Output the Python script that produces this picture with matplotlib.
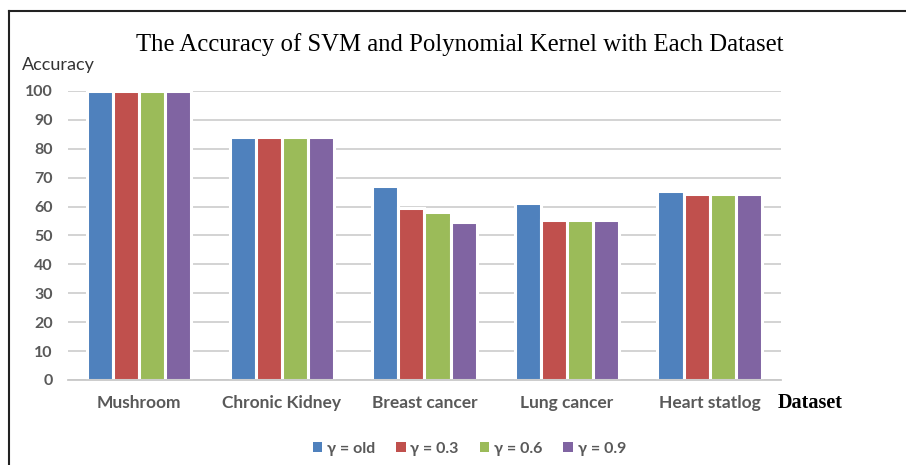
import matplotlib.pyplot as plt
import numpy as np
from matplotlib.lines import Line2D

# data
datasets = ['Mushroom', 'Chronic Kidney', 'Breast cancer', 'Lung cancer', 'Heart statlog']
series = ['\u03b3 = old', '\u03b3 = 0.3', '\u03b3 = 0.6', '\u03b3 = 0.9']
gamma_old = [100, 84.1, 67.2, 61.2, 65.4]
gamma_03 = [100, 84.1, 59.4, 55.3, 64.3]
gamma_06 = [100, 84.1, 58.2, 55.3, 64.3]
gamma_09 = [100, 84.1, 54.7, 55.3, 64.3]
colors = ['#4F81BD', '#C0504D', '#9BBB59', '#8064A2']

sans = ['Lato', 'DejaVu Sans']
serif = ['Liberation Serif', 'DejaVu Serif']
grey = '#595959'

fig = plt.figure(figsize=(9.06, 4.65), dpi=100)
ax = fig.add_axes([0.075, 0.183, 0.787, 0.6215])

x = np.arange(len(datasets))
w = 0.183
for i, vals in enumerate([gamma_old, gamma_03, gamma_06, gamma_09]):
    ax.bar(x + (i - 1.5) * w, vals, width=w, color=colors[i],
           edgecolor='white', linewidth=2.2, label=series[i], zorder=3)

ax.set_xlim(-0.5, 4.5)
ax.set_ylim(0, 100)
ax.set_yticks(range(0, 101, 10))
ax.grid(axis='y', color='#D0D0D0', linewidth=1.3, zorder=0)
for s in ['top', 'right', 'left']:
    ax.spines[s].set_visible(False)
ax.spines['bottom'].set_color('#C8C8C8')
ax.spines['bottom'].set_linewidth(1.3)
ax.spines['bottom'].set_zorder(4)
ax.tick_params(length=0)
ax.tick_params(axis='y', pad=11)
ax.tick_params(axis='x', pad=11)
ax.set_xticks(x)
ax.set_xticklabels(datasets)
for lab in ax.get_xticklabels():
    lab.set_fontsize(12.5)
for lab in ax.get_yticklabels():
    lab.set_fontsize(11.5)
for lab in ax.get_xticklabels() + ax.get_yticklabels():
    lab.set_family(sans)
    lab.set_fontweight('bold')
    lab.set_color(grey)

fig.text(0.508, 0.905, 'The Accuracy of SVM and Polynomial Kernel with Each Dataset',
         ha='center', va='center', family=serif, fontsize=17.8)
fig.text(0.024, 0.86, 'Accuracy', ha='left', va='center', family=sans,
         fontsize=13, color='#333333')
fig.text(0.858, 0.133, 'Dataset', ha='left', va='center', family=serif,
         fontsize=14.5, fontweight='bold')

leg = fig.legend(loc='center', bbox_to_anchor=(0.518, 0.035), ncol=4, frameon=False,
                 handlelength=0.6, handleheight=0.6, handletextpad=0.3,
                 columnspacing=1.3, prop={'family': sans, 'size': 11.5, 'weight': 'bold'})
for t in leg.get_texts():
    t.set_color(grey)
for h in leg.legend_handles:
    h.set_linewidth(0)

# outer frame (top and left edges visible)
fig.add_artist(Line2D([9 / 906, 1], [1 - 11 / 465, 1 - 11 / 465], color='#222222', linewidth=1.5))
fig.add_artist(Line2D([9 / 906, 9 / 906], [0, 1 - 11 / 465], color='#222222', linewidth=1.5))

fig.savefig('out.png', dpi=100)
